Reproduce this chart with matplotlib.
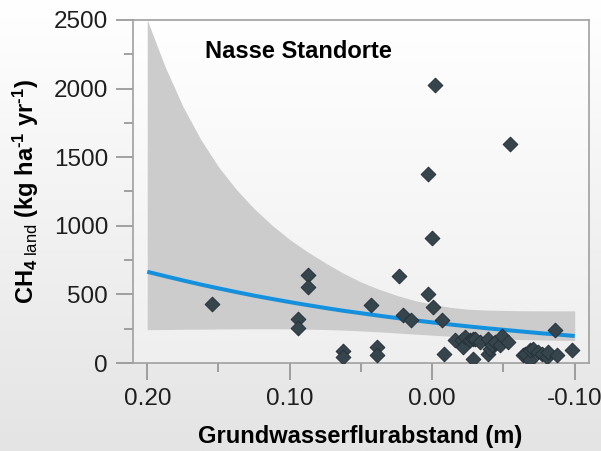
import numpy as np
import matplotlib
matplotlib.use("Agg")
import matplotlib.pyplot as plt
from matplotlib.colors import LinearSegmentedColormap
from matplotlib.ticker import FixedLocator

plt.rcParams['font.family'] = ['Liberation Sans', 'DejaVu Sans']
plt.rcParams['mathtext.fontset'] = 'custom'
plt.rcParams['mathtext.rm'] = 'Liberation Sans'
plt.rcParams['mathtext.bf'] = 'Liberation Sans:bold'
plt.rcParams['mathtext.it'] = 'Liberation Sans:italic'

# groundwater level (m) and CH4 emissions (kg ha-1 yr-1) of the wet sites
gw_level = [0.1548, 0.0870, 0.0870, 0.0940, 0.0940, 0.0625, 0.0625, 0.0432,
            0.0390, 0.0390, 0.0232, 0.0203, 0.0152, 0.0000, -0.0019, 0.0028,
            0.0032, -0.0007, -0.0070, -0.0082, -0.0545,
            -0.0159, -0.0206, -0.0218, -0.0230, -0.0265, -0.0288, -0.0288,
            -0.0300, -0.0335, -0.0393, -0.0393, -0.0405, -0.0417, -0.0440,
            -0.0475, -0.0487, -0.0533, -0.0639, -0.0650, -0.0686, -0.0686,
            -0.0709, -0.0744, -0.0768, -0.0803, -0.0814, -0.0861, -0.0873,
            -0.0978]
ch4_land = [433, 644, 554, 318, 258, 87, 44, 426,
            117, 56, 634, 348, 316, 911, 2024, 1375,
            501, 408, 316, 68, 1594,
            165, 165, 117, 190, 165, 178, 32,
            178, 153, 178, 68, 105, 129, 153,
            129, 195, 153, 56, 68, 20, 93,
            105, 80, 68, 44, 80, 238, 56,
            93]

# exponential fit and its confidence band
fit_x = [0.2, 0.1875, 0.175, 0.1625, 0.15, 0.1375, 0.125, 0.1125, 0.1,
         0.0875, 0.075, 0.0625, 0.05, 0.0375, 0.025, 0.0125, 0.0,
         -0.0125, -0.025, -0.0375, -0.05, -0.0625, -0.075, -0.0875, -0.1]
fit_y = [665, 633, 602, 572, 544, 517, 491, 467, 444,
         422, 401, 381, 363, 345, 328, 311, 296,
         281, 267, 254, 242, 230, 218, 208, 197]
band_upper = [2500, 2160, 1870, 1630, 1430, 1265, 1125, 1005, 900,
              810, 730, 655, 590, 538, 493, 456, 428,
              406, 392, 386, 383, 381, 380, 380, 380]
band_lower = [243, 244, 246, 247, 248, 249, 250, 250, 249,
              247, 244, 240, 234, 227, 219, 211, 203,
              195, 187, 180, 175, 171, 168, 166, 164]

x_ticks = [0.2, 0.1, 0.0, -0.1]
x_ticklabels = ['0.20', '0.10', '0.00', '-0.10']
x_minor = [0.15, 0.05, -0.05]
y_ticks = [0, 500, 1000, 1500, 2000, 2500]
y_minor = [250, 750, 1250, 1750, 2250]

fig = plt.figure(figsize=(6.01, 4.51), dpi=100, facecolor='white')

# soft grey gradient behind everything
bg = fig.add_axes([0, 0, 1, 1], zorder=-10)
bg_cmap = LinearSegmentedColormap.from_list('bg', ['#e4e4e4', '#ffffff'])
bg.imshow(np.linspace(0, 1, 256).reshape(-1, 1)[::-1], cmap=bg_cmap,
          aspect='auto', extent=[0, 1, 0, 1], origin='upper')
bg.axis('off')

ax = fig.add_axes([0.2213, 0.1951, 0.7587, 0.7606])
ax.set_facecolor('none')
ax_cmap = LinearSegmentedColormap.from_list('ax', ['#efefef', '#ffffff'])
ax.imshow(np.linspace(0, 1, 256).reshape(-1, 1)[::-1], cmap=ax_cmap,
          aspect='auto', extent=[0, 1, 0, 1], origin='upper',
          transform=ax.transAxes, zorder=0)

ax.fill_between(fit_x, band_lower, band_upper, color='#cccccc', lw=0, zorder=1)
ax.plot(fit_x, fit_y, color='#1590dc', lw=2.9, solid_capstyle='butt', zorder=2)
ax.scatter(gw_level, ch4_land, marker='D', s=56, color='#36454c',
           edgecolors='#26313a', linewidths=0.7, zorder=3)

ax.set_xlim(0.21, -0.11)
ax.set_ylim(0, 2500)

ax.set_xticks(x_ticks)
ax.set_xticklabels(x_ticklabels)
ax.xaxis.set_minor_locator(FixedLocator(x_minor))
ax.set_yticks(y_ticks)
ax.yaxis.set_minor_locator(FixedLocator(y_minor))

ax.tick_params(which='major', direction='out', length=12, width=1.1,
               color='#8a8a8a', labelsize=17.5, labelcolor='#1e1e1e', pad=6)
ax.tick_params(which='minor', direction='out', length=6.5, width=1.1,
               color='#8a8a8a')
for side in ['left', 'right', 'top', 'bottom']:
    ax.spines[side].set_color('#a0a0a0')
    ax.spines[side].set_linewidth(1.2)

ax.text(0.1595, 2223, 'Nasse Standorte', fontsize=17, fontweight='bold',
        ha='left', va='baseline', zorder=4)

fig.text(360 / 601, 1 - 437 / 451, 'Grundwasserflurabstand (m)',
         fontsize=17, fontweight='bold', ha='center', va='center')
fig.text(26 / 601, 1 - 191 / 451,
         'CH$_{\\mathbf{4}\\ \\mathrm{land}}$ (kg ha$^{\\mathbf{\u20101}}$ yr$^{\\mathbf{\u20101}}$)',
         fontsize=17, fontweight='bold', rotation=90, ha='center', va='center')

fig.savefig('out.png', dpi=100)
